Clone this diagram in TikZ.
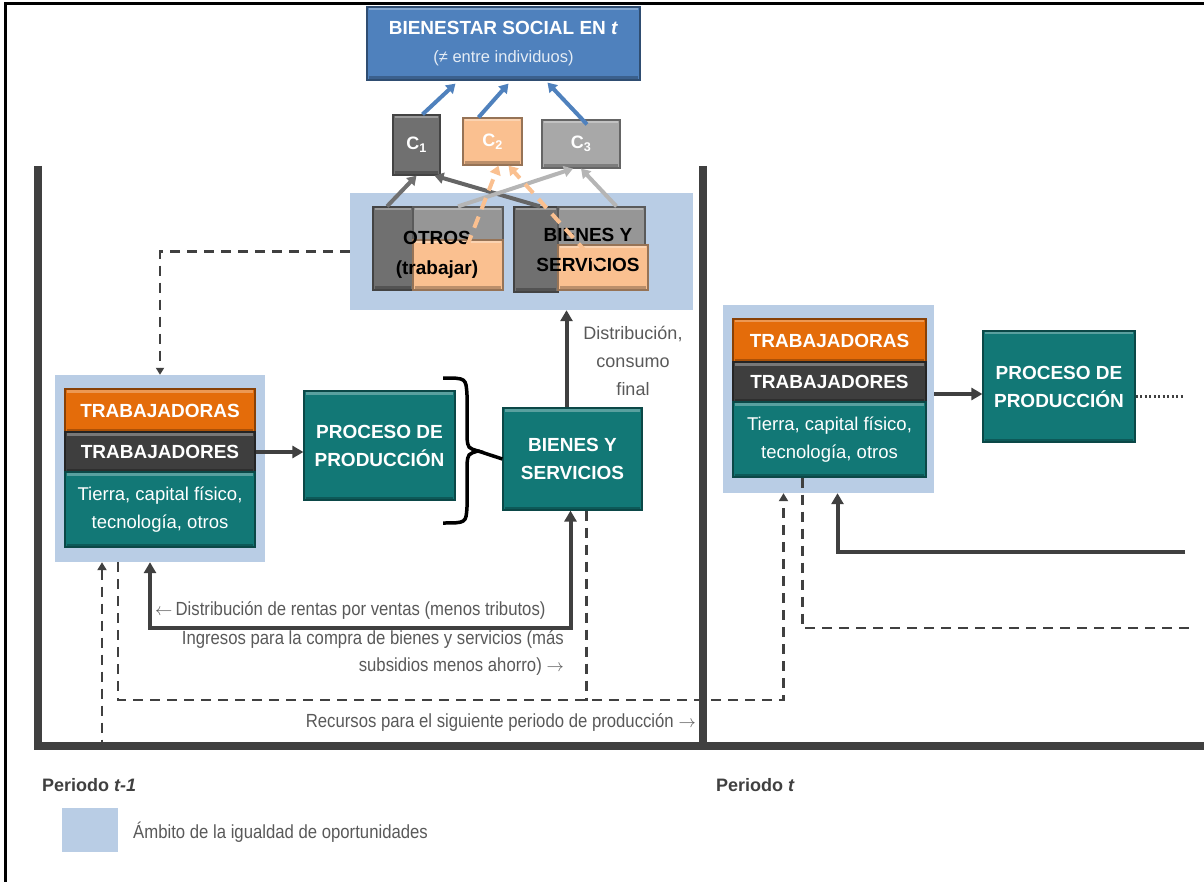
\documentclass[tikz,border=0pt]{standalone}
\usepackage{fontspec}
\setmainfont{Liberation Sans}
\newfontfamily\narrowfont{Liberation Sans}[FakeStretch=0.88]
\usepackage{tikz}
\usetikzlibrary{calc}
\usetikzlibrary{positioning}
\usetikzlibrary{arrows.meta}

\definecolor{bienblue}{RGB}{79,129,189}
\definecolor{tealbox}{RGB}{18,120,118}
\definecolor{orangebox}{RGB}{228,108,10}
\definecolor{darkbox}{RGB}{62,62,62}
\definecolor{peachbox}{RGB}{250,192,144}
\definecolor{cgray}{RGB}{112,112,112}
\definecolor{mgray}{RGB}{150,150,150}
\definecolor{lgray}{RGB}{168,168,168}
\definecolor{bgblue}{RGB}{185,205,229}
\definecolor{framegray}{RGB}{64,64,64}
\definecolor{notegray}{RGB}{89,89,89}

\tikzset{
  bevel/.style={fill=#1, draw=#1!60!black, line width=1.2pt, inner sep=0pt,
    align=center, text=white, font=\fontsize{19}{28}\selectfont\bfseries,
    path picture={
      \draw[white, opacity=0.3, line width=3pt]
        ([shift={(2pt,-2pt)}]path picture bounding box.north west) -- ([shift={(-2pt,-2pt)}]path picture bounding box.north east);
      \draw[black, opacity=0.25, line width=3pt]
        ([shift={(2pt,2pt)}]path picture bounding box.south west) -- ([shift={(-2pt,2pt)}]path picture bounding box.south east);}},
  ambito/.style={fill=bgblue, inner sep=0pt},
  flow/.style={draw=framegray, line width=4pt, -{Triangle[length=11pt,width=12pt]}},
  recurso/.style={draw=framegray, line width=2.5pt, dash pattern=on 10pt off 7pt},
  periodo/.style={draw=framegray, line width=8pt},
  conn/.style={draw=#1, line width=4pt, -{Triangle[length=9pt,width=11pt]}},
  note/.style={text=notegray, inner sep=0pt, font=\narrowfont\fontsize{19}{27}\selectfont},
  boxtext/.style={inner sep=0pt, align=center, font=\fontsize{19}{30}\selectfont\bfseries}
}

\begin{document}
\begin{tikzpicture}[x=1pt,y=-1pt]
\useasboundingbox (0,0) rectangle (1204,882);
\draw[black, line width=3pt] (5,882) -- (5,4) -- (1204,4);

% periodos
\draw[periodo] (38,166) -- (38,746) -- (1204,746);
\draw[periodo] (703,166) -- (703,746);

% bienestar y consumos
\node[bevel=bienblue, minimum width=273pt, minimum height=73pt] (bien) at (503.5,43.5)
  {BIENESTAR SOCIAL EN \textit{t}\\{\fontsize{16.5}{18}\selectfont\mdseries\color{white!85!bienblue}(≠ entre individuos)}};
\node[bevel=cgray, minimum width=47pt, minimum height=60pt, font=\fontsize{18}{20}\selectfont\bfseries] (c1) at (416.5,145) {C\textsubscript{1}};
\node[bevel=peachbox, minimum width=59pt, minimum height=47pt, font=\fontsize{18}{20}\selectfont\bfseries] (c2) at (492.5,141.5) {C\textsubscript{2}};
\node[bevel=lgray, minimum width=78pt, minimum height=48pt, font=\fontsize{18}{20}\selectfont\bfseries] (c3) at (581,144) {C\textsubscript{3}};

\draw[conn=bienblue] ([xshift=6]c1.north) -- ([xshift=-48,yshift=-3]bien.south);
\draw[conn=bienblue] ([xshift=-14]c2.north) -- ([xshift=5,yshift=-3]bien.south);
\draw[conn=bienblue] ([xshift=6,yshift=-5]c3.north) -- ([xshift=44,yshift=-2]bien.south);

% otros y bienes
\node[ambito, minimum width=343pt, minimum height=117pt] (bsback) at (521.5,251.5) {};
\node[bevel=cgray, minimum width=40pt, minimum height=83pt] (od) at (393,248.5) {};
\node[bevel=mgray, minimum width=90pt, minimum height=41pt] (og) at (458,227.5) {};
\node[bevel=peachbox, minimum width=90pt, minimum height=50pt] (op) at (458,265) {};
\node[boxtext] (otros) at (437,255) {OTROS\\(trabajar)};
\node[bevel=cgray, minimum width=44pt, minimum height=85pt] (bd) at (536,249.5) {};
\node[bevel=mgray, minimum width=87pt, minimum height=48pt] (bg) at (601.5,231) {};
\node[bevel=peachbox, minimum width=90pt, minimum height=45pt] (bp) at (603,267.5) {};
\node[boxtext] (bienes) at (588,250) {BIENES Y\\SERVICIOS};

\draw[conn=cgray] ([xshift=-6]od.north) -- (c1.south);
\draw[conn=darkbox!80] ([xshift=4]bd.north) -- ([xshift=18]c1.south);
\draw[conn=lgray!85] (og.north) -- ([xshift=-8]c3.south);
\draw[conn=lgray!85] ([xshift=15]bg.north) -- (c3.south);
\draw[conn=peachbox, dash pattern=on 12pt off 8pt] ([xshift=9,yshift=-7]op.north) -- ([xshift=6]c2.south);
\draw[conn=peachbox, dash pattern=on 12pt off 8pt] ([xshift=-3]bp.center) -- ([xshift=16]c2.south);

% periodo t-1
\node[ambito, minimum width=210pt, minimum height=187pt] (lback) at (160,468.5) {};
\node[bevel=orangebox, minimum width=190pt, minimum height=43pt] (ltra) at (160,410.5) {TRABAJADORAS};
\node[bevel=darkbox, minimum width=190pt, minimum height=40pt] (ltrs) at (160,452) {TRABAJADORES};
\node[bevel=tealbox, minimum width=190pt, minimum height=75pt, font=\fontsize{18.5}{28}\selectfont] (ltie) at (160,509.5)
  {Tierra, capital físico,\\tecnología, otros};
\node[bevel=tealbox, minimum width=151pt, minimum height=109pt] (pp1) at (379.5,445.5) {PROCESO DE\\PRODUCCIÓN};
\node[bevel=tealbox, minimum width=139pt, minimum height=102pt] (bs1) at (572.5,459) {BIENES Y\\SERVICIOS};

\draw[flow] (ltrs.east) -- (ltrs.east -| pp1.west);
% llave
\draw[line width=3.5pt] (443,378) .. controls (466,378) .. (467,395) -- (467,438)
  .. controls (468,448) .. (478,451) .. controls (468,454) .. (467,464) -- (467,507)
  .. controls (466,523) .. (443,523);
\coordinate (btip) at (478,451);
\draw[line width=3.5pt] (btip) -- (bs1.west);

\draw[flow] ([xshift=-6]bs1.north) -- ([xshift=-6]bs1.north |- bsback.south);
\node[note, font=\fontsize{18}{28}\selectfont, align=center] (distr) at (633,361) {Distribución,\\consumo\\final};

\draw[flow, {Triangle[length=11pt,width=12pt]}-{Triangle[length=11pt,width=12pt]}]
  ([xshift=-10]lback.south) -- ++(0,66) -| ([xshift=-2]bs1.south);
\node[note, anchor=west] (trent) at (155,610) {$\leftarrow$\,Distribución de rentas por ventas (menos tributos)};
\node[note, anchor=east, align=right] (tingr) at (564,653)
  {Ingresos para la compra de bienes y servicios (más\\subsidios menos ahorro) $\rightarrow$};

\draw[recurso, -{Triangle[length=7pt,width=8pt]}] (bsback.west) -| (lback.north);
\draw[recurso] ([xshift=14]bs1.south) -- ++(0,190);
\draw[recurso, {Triangle[length=8pt,width=9pt]}-] ([xshift=-58]lback.south) -- ++(0,184);
\node[note, anchor=east] (recur) at (696,722) {Recursos para el siguiente periodo de producción $\rightarrow$};

% periodo t
\node[ambito, minimum width=211pt, minimum height=188pt] (rback) at (828.5,399) {};
\node[bevel=orangebox, minimum width=193pt, minimum height=43pt] (rtra) at (829.5,340.5) {TRABAJADORAS};
\node[bevel=darkbox, minimum width=193pt, minimum height=40pt] (rtrs) at (829.5,382) {TRABAJADORES};
\node[bevel=tealbox, minimum width=193pt, minimum height=75pt, font=\fontsize{18.5}{28}\selectfont] (rtie) at (829.5,439.5)
  {Tierra, capital físico,\\tecnología, otros};
\node[bevel=tealbox, minimum width=152pt, minimum height=111pt] (pp2) at (1059,386.5) {PROCESO DE\\PRODUCCIÓN};

\draw[recurso, -{Triangle[length=8pt,width=9pt]}] ([xshift=-42]lback.south) -- ++(0,138) -| ([xshift=-45]rback.south);
\draw[flow] ([yshift=5]rback.east) -- ([yshift=5]rback.east -| pp2.west);
\draw[draw=framegray, line width=2.5pt, dash pattern=on 2pt off 2.5pt] ([yshift=-10]pp2.east) -- ++(48,0);
\coordinate (rent) at (1185,552);
\draw[flow] (rent) -| ([xshift=9]rback.south);
\coordinate (rrec) at (1192,628);
\draw[recurso] ([xshift=-27]rtie.south) |- (rrec);

% leyenda
\node[font=\fontsize{18}{20}\selectfont\bfseries, text=framegray, anchor=west, inner sep=0pt] (pt1) at (42,785) {Periodo \textit{t-1}};
\node[font=\fontsize{18}{20}\selectfont\bfseries, text=framegray, anchor=west, inner sep=0pt] (pt2) at (716,785) {Periodo \textit{t}};
\node[ambito, minimum width=56pt, minimum height=44pt] (leg) at (90,830) {};
\node[note, anchor=west] (legt) at (133,832) {Ámbito de la igualdad de oportunidades};
\end{tikzpicture}
\end{document}
